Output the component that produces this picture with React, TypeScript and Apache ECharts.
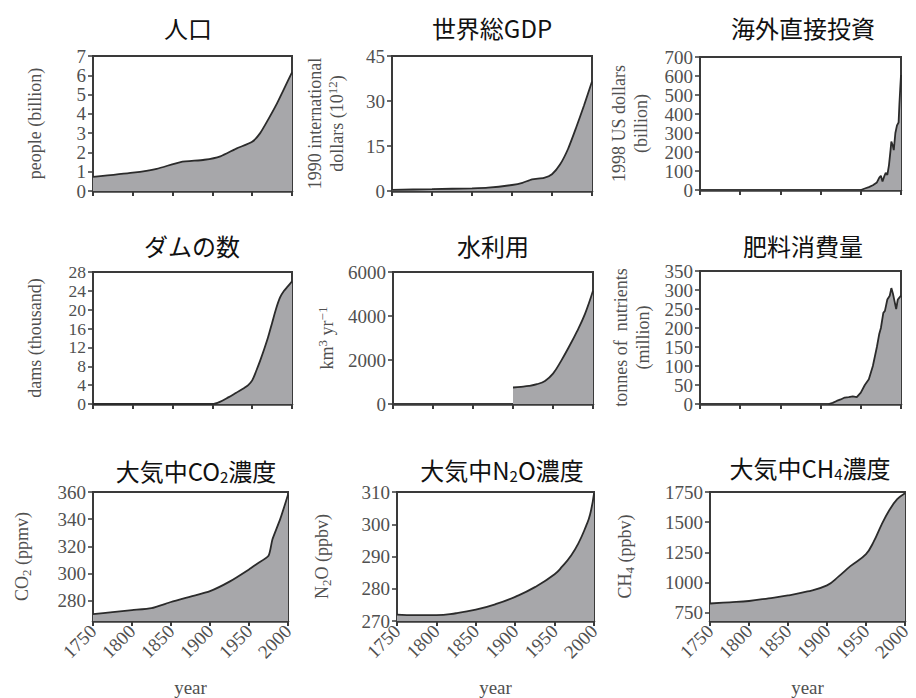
import React, { useEffect, useRef } from 'react';
import * as echarts from 'echarts';

// ---- data ----
const popYears = [1750, 1800, 1830, 1860, 1890, 1910, 1930, 1950, 1960, 1970, 1980, 1990, 2000];
const popVals = [0.73, 0.95, 1.15, 1.5, 1.62, 1.8, 2.2, 2.55, 3.0, 3.7, 4.45, 5.3, 6.15];

const gdpYears = [1750, 1800, 1850, 1870, 1900, 1913, 1925, 1940, 1950, 1960, 1970, 1980, 1990, 2000];
const gdpVals = [0.4, 0.6, 0.9, 1.1, 2.0, 2.7, 3.9, 4.4, 5.6, 8.8, 14, 21, 28.5, 36.5];

const fdiYears = [1950, 1955, 1960, 1965, 1970, 1973, 1975, 1977, 1979, 1981, 1983, 1985, 1987, 1988, 1990, 1991, 1993, 1995, 1997, 1998, 1999, 2000];
const fdiVals = [0, 8, 15, 25, 40, 65, 75, 45, 70, 90, 80, 130, 210, 255, 230, 210, 300, 340, 355, 450, 530, 605];

const damYears = [1750, 1900, 1910, 1920, 1930, 1940, 1945, 1950, 1955, 1960, 1965, 1970, 1975, 1980, 1985, 1990, 1995, 2000];
const damVals = [0, 0, 0.5, 1.4, 2.4, 3.4, 4.0, 5.0, 7.0, 9.2, 11.6, 14.2, 17.2, 20.2, 22.6, 24.0, 25.0, 26.0];

const waterYears = [1900, 1910, 1920, 1930, 1940, 1950, 1960, 1970, 1980, 1990, 2000];
const waterVals = [750, 780, 820, 900, 1050, 1380, 1950, 2600, 3300, 4100, 5150];

const fertYears = [1910, 1915, 1920, 1925, 1930, 1935, 1940, 1945, 1950, 1955, 1960, 1965, 1970, 1973, 1975, 1978, 1980, 1983, 1986, 1988, 1990, 1992, 1994, 1996, 1998, 2000];
const fertVals = [0, 3, 8, 12, 17, 18, 20, 18, 30, 50, 65, 100, 150, 185, 200, 240, 245, 275, 285, 305, 290, 270, 250, 275, 280, 285];

const co2Years = [1750, 1775, 1800, 1825, 1850, 1875, 1900, 1925, 1950, 1960, 1975, 1980, 1990, 2000];
const co2Vals = [270, 271.5, 273, 274.5, 279, 283, 287, 294, 303, 307, 313, 325, 340, 358];

const n2oYears = [1750, 1775, 1800, 1825, 1850, 1875, 1900, 1925, 1950, 1960, 1970, 1980, 1990, 1995, 2000];
const n2oVals = [272, 271.8, 271.8, 272.4, 273.5, 275.2, 277.5, 280.5, 284.5, 287, 290, 294, 299.5, 303, 309.5];

const ch4Years = [1750, 1775, 1800, 1825, 1850, 1875, 1900, 1915, 1930, 1950, 1960, 1970, 1980, 1990, 2000];
const ch4Vals = [825, 835, 846, 868, 892, 925, 975, 1050, 1135, 1235, 1340, 1480, 1600, 1690, 1740];

const xTicks = { min: 1750, max: 2000, interval: 50 };

const titles = ['人口', '世界総GDP', '海外直接投資', 'ダムの数', '水利用', '肥料消費量', '{a|大気中CO}{b|2}{a|濃度}', '{a|大気中N}{b|2}{a|O濃度}', '{a|大気中CH}{b|4}{a|濃度}'];
const yNames = [
  'people (billion)',
  '1990 international\ndollars (10{sup|12})',
  '1998 US dollars\n(billion)',
  'dams (thousand)',
  'km{sup|3} yr{sup|−1}',
  'tonnes of  nutrients\n(million)',
  'CO{sub|2} (ppmv)',
  'N{sub|2}O (ppbv)',
  'CH{sub|4} (ppbv)',
];
const yScales = [
  { min: 0, max: 7, interval: 1 },
  { min: 0, max: 45, interval: 15 },
  { min: 0, max: 700, interval: 100 },
  { min: 0, max: 28, interval: 4 },
  { min: 0, max: 6000, interval: 2000 },
  { min: 0, max: 350, interval: 50 },
  { min: 265, max: 360, ticks: [280, 300, 320, 340, 360] },
  { min: 270, max: 310, interval: 10 },
  { min: 680, max: 1750, ticks: [750, 1000, 1250, 1500, 1750] },
];
const seriesData = [
  [popYears, popVals],
  [gdpYears, gdpVals],
  [fdiYears, fdiVals],
  [damYears, damVals],
  [waterYears, waterVals],
  [fertYears, fertVals],
  [co2Years, co2Vals],
  [n2oYears, n2oVals],
  [ch4Years, ch4Vals],
];
const smoothness = [0.2, 0.2, 0, 0.3, 0.4, 0, 0.2, 0.5, 0.4];

// ---- layout ----
const grids = [
  { left: 93, top: 56, width: 199, height: 135 },
  { left: 392, top: 56, width: 200, height: 135 },
  { left: 700, top: 57, width: 201, height: 133 },
  { left: 93, top: 272, width: 199, height: 132 },
  { left: 393, top: 272, width: 200, height: 132 },
  { left: 700, top: 271, width: 201, height: 133 },
  { left: 93, top: 492, width: 195, height: 130 },
  { left: 397, top: 492, width: 197, height: 130 },
  { left: 710, top: 492, width: 195, height: 130 },
];
const titlePos = [
  [188, 27], [492, 27], [803, 27],
  [192, 245], [493, 245], [803, 245],
  [196, 470], [502, 469], [810, 467],
];
const nameGaps = [47, 44, 48, 47, 55, 46, 60, 64, 74];
const yLabelSizes = [19, 19, 19, 17.5, 19, 19, 19, 19, 19];

const SERIF = 'Liberation Serif, DejaVu Serif, serif';
const SANS = 'Noto Sans CJK JP, Noto Sans, sans-serif';
const AX = '#3a3a3a';
const LBL = '#505050';

export default function App() {
  const ref = useRef<HTMLDivElement>(null);
  useEffect(() => {
    document.body.style.margin = '0';
    if (!ref.current) return;
    const chart = echarts.init(ref.current, undefined, { renderer: 'svg' });
    const subRich = {
      sup: { fontSize: 13, lineHeight: 8, verticalAlign: 'top', fontFamily: SERIF, color: LBL },
      sub: { fontSize: 13, lineHeight: 3, verticalAlign: 'bottom', fontFamily: SERIF, color: LBL },
    };
    const plain = (v: number) => String(v);
    const option: any = {
      animation: false,
      backgroundColor: '#ffffff',
      grid: grids.map((g) => ({ ...g, show: true, borderColor: AX, borderWidth: 2, backgroundColor: '#fff' })),
      xAxis: grids.map((_, i) => {
        const bottomRow = i >= 6;
        return {
          type: 'value',
          gridIndex: i,
          ...xTicks,
          axisLine: { show: true, lineStyle: { color: AX, width: 2.5 } },
          axisTick: { show: true, inside: false, length: 5, lineStyle: { color: AX, width: 2 } },
          axisLabel: bottomRow
            ? {
                show: true, rotate: 45, fontSize: 19, fontFamily: SERIF, color: LBL, margin: 7,
                formatter: plain, showMinLabel: true, showMaxLabel: true, hideOverlap: false,
              }
            : { show: false },
          splitLine: { show: false },
          name: bottomRow ? 'year' : '',
          nameLocation: 'middle',
          nameGap: 57,
          nameTextStyle: { fontSize: 19, fontFamily: SERIF, color: LBL },
        };
      }),
      yAxis: grids.map((_, i) => {
        const s: any = yScales[i];
        const ax: any = {
          type: 'value',
          gridIndex: i,
          min: s.min,
          max: s.max,
          axisLine: { show: true, lineStyle: { color: AX, width: 2 } },
          axisTick: { show: true, inside: false, length: 5, lineStyle: { color: AX, width: 1.5 } },
          axisLabel: {
            show: true, fontSize: yLabelSizes[i], lineHeight: 15, fontFamily: SERIF, color: LBL, margin: 7,
            formatter: plain, showMinLabel: true, showMaxLabel: true, hideOverlap: false,
          },
          splitLine: { show: false },
          name: yNames[i],
          nameLocation: 'middle',
          nameGap: nameGaps[i],
          nameRotate: 90,
          nameTextStyle: { fontSize: 18, fontFamily: SERIF, color: LBL, lineHeight: 22, rich: subRich },
        };
        if (s.interval) ax.interval = s.interval;
        if (s.ticks) {
          ax.axisLabel.customValues = s.ticks;
          ax.axisTick.customValues = s.ticks;
        }
        return ax;
      }),
      series: seriesData.map(([ys, vs], i) => ({
        type: 'line',
        xAxisIndex: i,
        yAxisIndex: i,
        data: (ys as number[]).map((y, k) => [y, (vs as number[])[k]]),
        showSymbol: false,
        symbol: 'none',
        smooth: smoothness[i] || false,
        lineStyle: { color: '#2b2b2b', width: 1.8 },
        areaStyle: { color: '#a7a7aa', opacity: 1, origin: 'start' },
        z: 2,
      })),
      graphic: titles.map((t, i) => ({
        type: 'text',
        x: titlePos[i][0],
        y: titlePos[i][1],
        style: {
          text: t,
          fontSize: 24,
          fontFamily: SANS,
          fill: '#111',
          align: 'center',
          verticalAlign: 'middle',
          rich: {
            a: { fontSize: 24, lineHeight: 28, fontFamily: SANS, fill: '#111' },
            b: { fontSize: 15, lineHeight: 4, verticalAlign: 'bottom', fontFamily: SANS, fill: '#111' },
          },
        },
      })),
    };
    chart.setOption(option);
    return () => chart.dispose();
  }, []);
  return <div ref={ref} style={{ width: 916, height: 698 }} />;
}
